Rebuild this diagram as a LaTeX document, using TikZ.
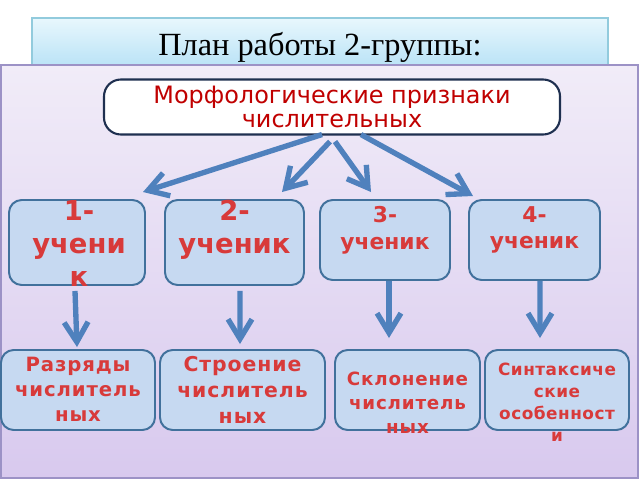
\documentclass[tikz,border=0pt]{standalone}
\usepackage{fontspec}
\setmainfont{Liberation Serif}
\newfontfamily\dejavu{DejaVu Sans}
\newfontfamily\dejavuwide[LetterSpace=4.5]{DejaVu Sans}
\newfontfamily\dejavunarrow[LetterSpace=3]{DejaVu Sans}
\usetikzlibrary{arrows.meta,calc}
\definecolor{boxfill}{HTML}{C6D9F1}
\definecolor{boxline}{HTML}{41719C}
\definecolor{arrowblue}{HTML}{4F81BD}
\definecolor{textred}{HTML}{D83A3A}
\definecolor{darkred}{HTML}{C00000}
\definecolor{navy}{HTML}{1F3050}
\definecolor{lavtop}{HTML}{F1ECF8}
\definecolor{lavbot}{HTML}{D8C9EE}
\definecolor{lavline}{HTML}{9C92C6}
\definecolor{skytop}{HTML}{E8F7FD}
\definecolor{skybot}{HTML}{B8E2F6}
\definecolor{skyline}{HTML}{92CBDD}
\def\u{0.025cm}

\begin{document}
\begin{tikzpicture}[x=0.025cm,y=-0.025cm,
    pupil/.style={draw=boxline,line width=1.4pt,fill=boxfill,rounded corners=9pt,inner sep=0pt},
    pupiltext/.style={anchor=north,align=center,text=textred,inner sep=0pt},
    arr/.style={draw=arrowblue,line width=3.8pt,-{Straight Barb[length=14pt,width=17pt]}}]
    \useasboundingbox (0,0) rectangle (640,480);
    \fill[white] (0,0) rectangle (640,480);
    %title and background
    \shade[top color=skytop,bottom color=skybot,draw=skyline,line width=0.8pt] (32,18) rectangle (608,68);
    \node[anchor=base,font=\fontsize{23}{26}\selectfont] (title) at (320,55) {План работы 2-группы:};
    \shade[top color=lavtop,bottom color=lavbot,draw=lavline,line width=0.8pt] (1,65) rectangle (638,478);
    \node[draw=navy,line width=1.5pt,fill=white,rounded corners=12pt,minimum width=456*\u,minimum height=55*\u,
        align=center,text=darkred,font=\dejavu\fontsize{17}{17.7}\selectfont] (morph) at (332,107)
        {Морфологические признаки\\числительных};
    %pupils
    \node[pupil,minimum width=136*\u,minimum height=85*\u] (s1) at (77,242.5) {};
    \node[pupil,minimum width=139*\u,minimum height=85*\u] (s2) at (234.5,242.5) {};
    \node[pupil,minimum width=130*\u,minimum height=80*\u] (s3) at (385,240) {};
    \node[pupil,minimum width=131*\u,minimum height=80*\u] (s4) at (534.5,240) {};
    \node[pupiltext,font=\dejavu\bfseries\fontsize{19.5}{23.5}\selectfont] (l1) at ($(s1.north)+(2,1)$) {1-\\учени\\к};
    \node[pupiltext,font=\dejavu\bfseries\fontsize{19.5}{23.5}\selectfont] (l2) at ($(s2.north)+(0,1)$) {2-\\ученик};
    \node[pupiltext,font=\dejavu\bfseries\fontsize{15.5}{19}\selectfont] (l3) at ($(s3.north)+(0,7)$) {3-\\ученик};
    \node[pupiltext,font=\dejavu\bfseries\fontsize{15.5}{19}\selectfont] (l4) at ($(s4.north)+(0,7)$) {4-\\ученик};
    %topics
    \node[pupil,minimum width=154*\u,minimum height=80*\u] (r1) at (78,390) {};
    \node[pupil,minimum width=165*\u,minimum height=80*\u] (r2) at (242.5,390) {};
    \node[pupil,minimum width=145*\u,minimum height=80*\u] (r3) at (407.5,390) {};
    \node[pupil,minimum width=144*\u,minimum height=80*\u] (r4) at (557,390) {};
    \node[pupiltext,font=\dejavuwide\bfseries\fontsize{14}{17.7}\selectfont] (t1) at ($(r1.north)+(0,8)$) {Разряды\\числитель\\ных};
    \node[pupiltext,font=\dejavuwide\bfseries\fontsize{14.5}{18.5}\selectfont] (t2) at ($(r2.north)+(0,7)$) {Строение\\числитель\\ных};
    \node[pupiltext,font=\dejavuwide\bfseries\fontsize{13}{17}\selectfont] (t3) at ($(r3.north)+(0,23)$) {Склонение\\числитель\\ных};
    \node[pupiltext,font=\dejavunarrow\bfseries\fontsize{12}{15.5}\selectfont] (t4) at ($(r4.north)+(0,14)$) {Синтаксиче\\ские\\особенност\\и};
    %arrows
    \draw[arr] ($(morph.south)+(-10,-1)$) -- ($(s1.north)+(66,-7)$);
    \draw[arr] ($(morph.south)+(-2,6)$) -- ($(s2.north)+(47.5,-7)$);
    \draw[arr] ($(morph.south)+(3,6)$) -- ($(s3.north)+(-14,-7)$);
    \draw[arr] ($(morph.south)+(29,-1)$) -- ($(s4.north)+(-61.5,-3)$);
    \draw[arr] ($(s1.south)+(-2,5)$) -- ($(r1.north)+(-1,-2)$);
    \draw[arr] ($(s2.south)+(5.5,5)$) -- ($(r2.north)+(-2.5,-5)$);
    \draw[arr] ($(s3.south)+(4,0)$) -- ($(r3.north)+(-18.5,-11)$);
    \draw[arr] ($(s4.south)+(5.5,0)$) -- ($(r4.north)+(-17,-11)$);
\end{tikzpicture}
\end{document}
